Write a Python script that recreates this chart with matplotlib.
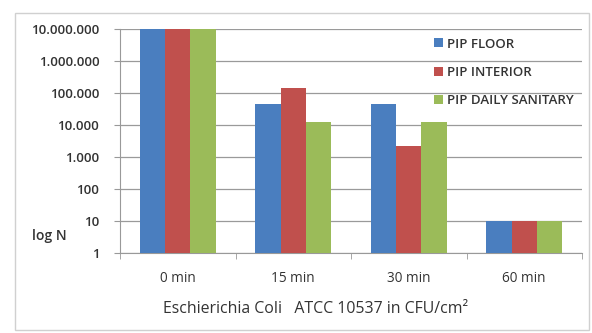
import matplotlib
matplotlib.use("Agg")
import matplotlib.pyplot as plt
import numpy as np
from matplotlib.patches import Rectangle
from matplotlib.ticker import FixedLocator, NullLocator

categories = ["0 min", "15 min", "30 min", "60 min"]
series = ["PIP FLOOR", "PIP INTERIOR", "PIP DAILY SANITARY"]
pip_floor = [10_000_000, 45_000, 45_000, 10]
pip_interior = [10_000_000, 145_000, 2_200, 10]
pip_daily = [10_000_000, 12_000, 12_000, 10]
colors = ["#4a7ebf", "#c0504d", "#9bbb59"]

yticks = [1, 10, 100, 1_000, 10_000, 100_000, 1_000_000, 10_000_000]
ytick_labels = [f"{v:,}".replace(",", ".") for v in yticks]

plt.rcParams["font.family"] = ["Open Sans", "DejaVu Sans"]

W, H = 592, 333
fig = plt.figure(figsize=(W / 100, H / 100), dpi=100, facecolor="white")

# outer chart frame
fig.patches.append(Rectangle((15 / W, 3 / H), 574 / W, 317 / H, transform=fig.transFigure,
                             fill=False, edgecolor="#d0d0d0", lw=1.0))

ax = fig.add_axes([120 / W, (H - 253) / H, 462 / W, 224 / H])
ax.set_yscale("log")
ax.set_ylim(1, 10_000_000)
ax.set_xlim(-0.5, len(categories) - 0.5)

x = np.arange(len(categories))
bw = 0.22
for i, (vals, name) in enumerate(zip([pip_floor, pip_interior, pip_daily], series)):
    ax.bar(x + (i - 1) * bw, vals, width=bw, color=colors[i], label=name, zorder=3)

ax.yaxis.set_major_locator(FixedLocator(yticks))
ax.yaxis.set_minor_locator(NullLocator())
ax.set_yticklabels(ytick_labels, fontsize=9.5, color="#333333", fontweight="semibold")
ax.set_xticks(x)
ax.set_xticklabels(categories, fontsize=9.8, color="#333333")
ax.set_xticks(np.arange(len(categories) + 1) - 0.5, minor=True)
ax.tick_params(axis="x", which="major", length=0, pad=13)
ax.tick_params(axis="x", which="minor", length=4, color="#999999", direction="out")
ax.tick_params(axis="y", length=4, color="#999999", pad=11)

ax.grid(axis="y", color="#9a9a9a", lw=0.9, zorder=0)
for s in ["top", "right"]:
    ax.spines[s].set_visible(False)
ax.spines["left"].set_color("#999999")
ax.spines["bottom"].set_color("#999999")

ax.legend(loc="upper left", bbox_to_anchor=(0.655, 1.015), frameon=False,
          prop={"weight": "semibold", "size": 9.5},
          handlelength=0.65, handleheight=0.65, handletextpad=0.3, labelspacing=1.17,
          labelcolor="#333333")

fig.text(32 / W, (H - 236) / H, "log N", fontsize=10, color="#333333", va="center",
         fontweight="semibold")
fig.text(316 / W, (H - 309) / H, "Eschierichia Coli   ATCC 10537 in CFU/cm²", fontsize=11.4,
         color="#333333", ha="center", va="center")

fig.savefig("out.png", dpi=100, facecolor="white")
